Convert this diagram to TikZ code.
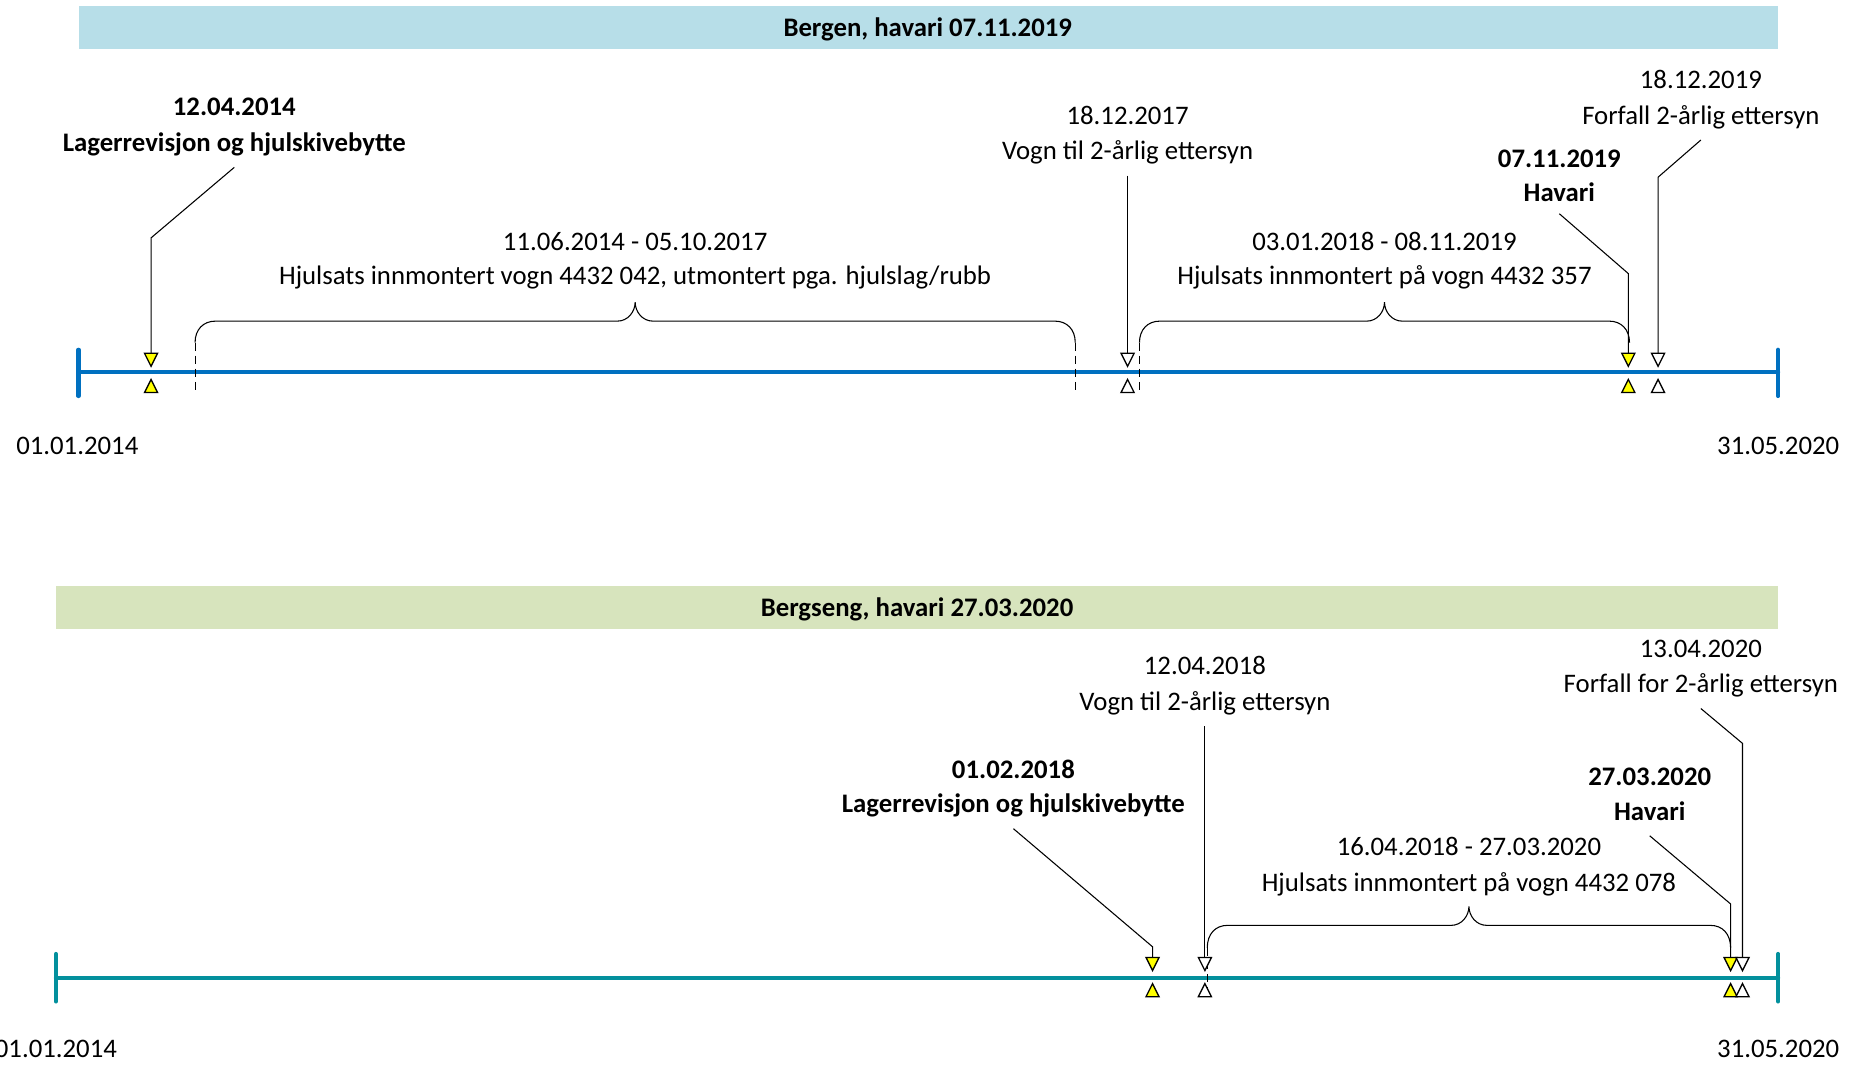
\documentclass[tikz,border=0pt]{standalone}
\usepackage{fontspec}
\setmainfont{Carlito}
\definecolor{bandblue}{HTML}{B7DEE8}
\definecolor{bandgreen}{HTML}{D7E4BD}
\definecolor{axisblue}{HTML}{0070C0}
\definecolor{axisteal}{HTML}{03909D}
\definecolor{evyellow}{HTML}{FFFF00}

% event marker: a downward triangle above the axis and an upward one below it;
% the named coordinate sits at the top edge of the upper triangle
\newcommand\evmark[4]{%
  \coordinate (#1) at (#2,#3);
  \filldraw[mk, fill=#4] (#2-5.5,#3) -- (#2+5.5,#3) -- (#2,#3+11) -- cycle;
  \filldraw[mk, fill=#4] (#2-5.5,#3+33) -- (#2+5.5,#3+33) -- (#2,#3+22) -- cycle;
}

% curly brace spanning xl..xr, horizontal part at yh, ends reaching down to yb
\newcommand\spanbrace[4]{%
  \pgfmathsetmacro\bxc{(#1+#2)/2}
  \draw[brc] (#1,#3) .. controls (#1,#4+7) and (#1+7,#4) .. (#1+17,#4)
    -- (\bxc-15,#4) .. controls (\bxc-6,#4) and (\bxc,#4-8) .. (\bxc,#4-16)
    .. controls (\bxc,#4-8) and (\bxc+6,#4) .. (\bxc+15,#4)
    -- (#2-17,#4) .. controls (#2-7,#4) and (#2,#4+7) .. (#2,#3);
}

\begin{document}
\begin{tikzpicture}[x=1pt,y=-1pt,
  txt/.style={font=\fontsize{22.5}{27}\selectfont, inner sep=0pt,
    text height=15pt, text depth=5pt, anchor=base},
  btxt/.style={txt, font=\fontsize{22.5}{27}\selectfont\bfseries},
  mk/.style={draw=black, line width=1.1pt, line join=miter},
  callout/.style={draw=black, line width=0.9pt},
  brc/.style={draw=black, line width=0.9pt},
  spanmark/.style={draw=black, line width=0.9pt, dash pattern=on 7pt off 4pt},
  axisline/.style={line width=3.4pt, line cap=round}]

\useasboundingbox (0,0) rectangle (1568,896);

% ---------------- Bergen ----------------
\fill[bandblue] (66,5) rectangle (1495,41);
\node[btxt] (h1) at (780,30.5) {Bergen, havari 07.11.2019};

\draw[axisline, axisblue] (66,313) -- (1495,313);
\draw[axisline, axisblue] (66,294) -- (66,333);
\draw[axisline, axisblue] (1495,294) -- (1495,333);

\draw[spanmark] (164,288) -- (164,330);
\draw[spanmark] (904,288) -- (904,330);
\draw[spanmark] (958,288) -- (958,330);
\spanbrace{164}{904}{288}{270}
\spanbrace{958}{1370}{288}{270}

\evmark{mA}{127}{297}{evyellow}
\evmark{mB}{948}{297}{white}
\evmark{mD}{1369}{297}{evyellow}
\evmark{mC}{1394}{297}{white}

\node[btxt] (a1) at (197,97.5) {12.04.2014};
\node[btxt] (a2) at (197,127.5) {Lagerrevisjon og hjulskivebytte};
\node[txt] (b1) at (948,104.5) {18.12.2017};
\node[txt] (b2) at (948,134.5) {Vogn til 2-årlig ettersyn};
\node[txt] (c1) at (1430,74.5) {18.12.2019};
\node[txt] (c2) at (1430,104.5) {Forfall 2-årlig ettersyn};
\node[btxt] (d1) at (1311,140.5) {07.11.2019};
\node[btxt] (d2) at (1311,169.5) {Havari};
\node[txt] (p1) at (534,210.5) {11.06.2014 - 05.10.2017};
\node[txt] (p2) at (534,239.5) {Hjulsats innmontert vogn 4432 042, utmontert pga. hjulslag/rubb};
\node[txt] (q1) at (1164,210.5) {03.01.2018 - 08.11.2019};
\node[txt] (q2) at (1164,239.5) {Hjulsats innmontert på vogn 4432 357};
\node[txt] (s1) at (65,382.5) {01.01.2014};
\node[txt] (e1) at (1495,382.5) {31.05.2020};

\draw[callout] ([yshift=-8pt]a2.south) -- (mA |- 0,200) -- (mA);
\draw[callout] ([yshift=-8pt]b2.south) -- (mB);
\draw[callout] ([yshift=-8pt]c2.south) -- (mC |- 0,149) -- (mC);
\draw[callout] ([yshift=-5pt]d2.south) -- (mD |- 0,230) -- (mD);

% ---------------- Bergseng ----------------
\fill[bandgreen] (47,493) rectangle (1495,529);
\node[btxt] (h2) at (771,518.5) {Bergseng, havari 27.03.2020};

\draw[axisline, axisteal] (47,822) -- (1495,822);
\draw[axisline, axisteal] (47,802) -- (47,842);
\draw[axisline, axisteal] (1495,802) -- (1495,842);

\draw[spanmark] (1015,797) -- (1015,835);
\spanbrace{1015}{1455}{797}{778}

\evmark{mK}{969}{805}{evyellow}
\evmark{mF}{1013}{805}{white}
\evmark{mN}{1455}{805}{evyellow}
\evmark{mG}{1465}{805}{white}

\node[txt] (f1) at (1013,567.5) {12.04.2018};
\node[txt] (f2) at (1013,597.5) {Vogn til 2-årlig ettersyn};
\node[txt] (g1) at (1430,552.5) {13.04.2020};
\node[txt] (g2) at (1430,582.5) {Forfall for 2-årlig ettersyn};
\node[btxt] (k1) at (852,654.5) {01.02.2018};
\node[btxt] (k2) at (852,683.5) {Lagerrevisjon og hjulskivebytte};
\node[btxt] (n1) at (1387,660.5) {27.03.2020};
\node[btxt] (n2) at (1387,689.5) {Havari};
\node[txt] (r1) at (1235,719.5) {16.04.2018 - 27.03.2020};
\node[txt] (r2) at (1235,749.5) {Hjulsats innmontert på vogn 4432 078};
\node[txt] (s2) at (47,889.5) {01.01.2014};
\node[txt] (e2) at (1495,889.5) {31.05.2020};

\draw[callout] ([yshift=-8pt]f2.south) -- (mF);
\draw[callout] ([yshift=-8pt]g2.south) -- (mG |- 0,625) -- (mG);
\draw[callout] ([yshift=-8pt]k2.south) -- (mK |- 0,796) -- (mK);
\draw[callout] ([yshift=-8pt]n2.south) -- (mN |- 0,760) -- (mN);
\end{tikzpicture}
\end{document}
